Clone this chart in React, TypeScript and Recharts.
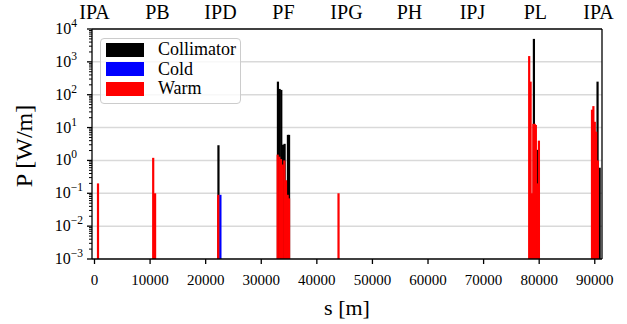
import React from 'react';
import { ComposedChart, Bar, XAxis, YAxis, CartesianGrid, Legend, Label } from 'recharts';

// ring sections (top axis)
const sectionNames = ['IPA', 'PB', 'IPD', 'PF', 'IPG', 'PH', 'IPJ', 'PL', 'IPA'];
const sectionS = [0, 11332, 22664, 33996, 45329, 56661, 67993, 79325, 90658];

const sTicks = [0, 10000, 20000, 30000, 40000, 50000, 60000, 70000, 80000, 90000];
const pDecades = [1e-3, 1e-2, 1e-1, 1e0, 1e1, 1e2, 1e3, 1e4];

const seriesNames = ['Collimator', 'Cold', 'Warm'];
const seriesColors = ['#000000', '#0000ff', '#ff0000'];

// power deposition per element [W/m] vs s [m]
const collimatorS = [22300, 33000, 33300, 33600, 33900, 34200, 34500, 34800, 35000, 79050, 79650, 90500, 90880];
const collimatorP = [2.9, 250, 150, 140, 3.0, 3.2, 0.12, 6.0, 6.0, 5000, 2.1, 250, 0.6];

const coldS = [22650];
const coldP = [0.09];

const warmS = [
  630, 10560, 10900, 22250,
  32950, 33250, 33550, 33850, 34150, 34450, 34750, 35000,
  43900,
  78200, 78450, 78700, 78950, 79200, 79400, 79650, 79950,
  89500, 89750, 90000, 90250, 90550,
];
const warmP = [
  0.2, 1.2, 0.1, 0.09,
  1.5, 1.3, 1.1, 0.75, 1.0, 0.25, 0.09, 0.07,
  0.1,
  1500, 250, 0.1, 13, 13, 12, 0.2, 4.0,
  35, 45, 15, 7.5, 1.0,
];

const FONT = '"Liberation Serif", "Times New Roman", serif';
const X_DOMAIN = [-450, 91300];
const Y_DOMAIN = [1e-3, 1e4];
const SPIKE_PX = 2.2;

// merged table for the chart
const rows: Record<number, any> = {};
const put = (s: number[], p: number[], key: string) =>
  s.forEach((v, i) => {
    rows[v] = rows[v] || { s: v };
    rows[v][key] = p[i];
  });
put(collimatorS, collimatorP, 'collimator');
put(coldS, coldP, 'cold');
put(warmS, warmP, 'warm');
const data = Object.values(rows).sort((a: any, b: any) => a.s - b.s);

const minorTicks: number[] = [];
for (let e = -3; e < 4; e++) for (let k = 2; k < 10; k++) minorTicks.push(k * Math.pow(10, e));
const yTicks = [...pDecades, ...minorTicks];

const Spike = (props: any) => {
  const { x, y, width, height, fill } = props;
  if (!(height > 0) || !Number.isFinite(x) || !Number.isFinite(y)) return null;
  const cx = x + width / 2;
  return <rect x={cx - SPIKE_PX / 2} y={y} width={SPIKE_PX} height={height} fill={fill} />;
};

const YTick = (props: any) => {
  const { x, y, payload } = props;
  const v = payload.value;
  const exp = Math.round(Math.log10(v));
  const major = Math.abs(v / Math.pow(10, exp) - 1) < 1e-6;
  if (!major) return <line x1={x - 3} x2={x} y1={y} y2={y} stroke="#000" strokeWidth={1} />;
  return (
    <g>
      <line x1={x - 5} x2={x} y1={y} y2={y} stroke="#000" strokeWidth={1.3} />
      <text x={exp < 0 ? x - 9 : x - 15} y={y + 5} textAnchor="end" fontFamily={FONT} fontSize={16} fill="#000">
        10
        <tspan dy={-7} fontSize={11.5}>{exp < 0 ? '\u2212' + -exp : String(exp)}</tspan>
      </text>
    </g>
  );
};

const XTick = (props: any) => {
  const { x, y, payload } = props;
  return (
    <text x={x} y={y + 21} textAnchor="middle" fontFamily={FONT} fontSize={15} fill="#000">
      {payload.value}
    </text>
  );
};

const TopTick = (props: any) => {
  const { x, y, index } = props;
  return (
    <text x={x} y={y - 10} textAnchor="middle" fontFamily={FONT} fontSize={20} fill="#000">
      {sectionNames[index]}
    </text>
  );
};

const LegendBox = () => (
  <div
    style={{
      boxSizing: 'border-box',
      width: 141,
      height: 66,
      border: '1px solid #cccccc',
      borderRadius: 4,
      background: 'rgba(255,255,255,0.8)',
      padding: '1px 0 0 5px',
      color: '#000',
    }}
  >
    {seriesNames.map((name, i) => (
      <div key={name} style={{ display: 'flex', alignItems: 'center', height: 19.5 }}>
        <span style={{ width: 38, height: 14, background: seriesColors[i], marginRight: 14, display: 'inline-block' }} />
        <span style={{ fontFamily: FONT, fontSize: 18, lineHeight: '19px' }}>{name}</span>
      </div>
    ))}
  </div>
);

export default function App() {
  return (
    <div style={{ position: 'absolute', left: 0, top: 0, width: 627, height: 324, background: '#fff' }}>
      <ComposedChart width={627} height={324} data={data} margin={{ top: 0, right: 24, bottom: 0, left: 30 }}>
        <CartesianGrid vertical={false} horizontalValues={[1e-2, 1e-1, 1e0, 1e1, 1e2, 1e3]} stroke="#d9d9d9" strokeWidth={1.5} />
        <XAxis
          dataKey="s"
          type="number"
          domain={X_DOMAIN}
          allowDataOverflow
          ticks={sTicks}
          interval={0}
          height={65}
          tickSize={5}
          tickMargin={0}
          stroke="#000"
          strokeWidth={1.3}
          tick={<XTick />}
        >
          <Label value="s [m]" position="insideBottom" offset={9} style={{ fontFamily: FONT, fontSize: 22, fill: '#000' }} />
        </XAxis>
        <XAxis xAxisId="cold" dataKey="s" type="number" domain={X_DOMAIN} allowDataOverflow hide />
        <XAxis xAxisId="warm" dataKey="s" type="number" domain={X_DOMAIN} allowDataOverflow hide />
        <XAxis
          xAxisId="top"
          orientation="top"
          dataKey="s"
          type="number"
          domain={X_DOMAIN}
          allowDataOverflow
          ticks={sectionS}
          interval={0}
          height={29}
          tickSize={0}
          tickMargin={0}
          tickLine={false}
          stroke="#000"
          strokeWidth={1.3}
          tick={<TopTick />}
        />
        <YAxis
          type="number"
          scale="log"
          domain={Y_DOMAIN}
          allowDataOverflow
          ticks={yTicks}
          interval={0}
          width={62}
          tickSize={0}
          tickMargin={0}
          tickLine={false}
          stroke="#000"
          strokeWidth={1.3}
          tick={<YTick />}
        >
          <Label
            content={() => (
              <text x={32} y={146} transform="rotate(-90, 32, 146)" textAnchor="middle" fontFamily={FONT} fontSize={24} fill="#000">
                P [W/m]
              </text>
            )}
          />
        </YAxis>
        <YAxis yAxisId="r" orientation="right" type="number" scale="log" domain={Y_DOMAIN} allowDataOverflow ticks={[]} width={1} tickLine={false} stroke="#000" strokeWidth={1.3} />
        <Legend content={<LegendBox />} layout="horizontal" align="center" verticalAlign="middle" wrapperStyle={{ left: 100, top: 38, width: 141 }} />
        <Bar dataKey="collimator" name="Collimator" fill={seriesColors[0]} shape={<Spike />} isAnimationActive={false} />
        <Bar dataKey="cold" name="Cold" xAxisId="cold" fill={seriesColors[1]} shape={<Spike />} isAnimationActive={false} />
        <Bar dataKey="warm" name="Warm" xAxisId="warm" fill={seriesColors[2]} shape={<Spike />} isAnimationActive={false} />
      </ComposedChart>
    </div>
  );
}
